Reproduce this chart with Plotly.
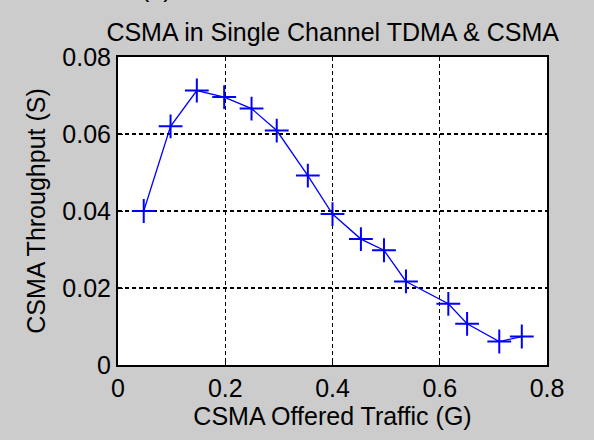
import plotly.graph_objects as go

offered_traffic = [0.048, 0.098, 0.147, 0.198, 0.249, 0.296, 0.354, 0.400, 0.453, 0.496, 0.537, 0.616, 0.651, 0.711, 0.753]
throughput = [0.0400, 0.0620, 0.0713, 0.0696, 0.0666, 0.0609, 0.0492, 0.0392, 0.0327, 0.0298, 0.0217, 0.0159, 0.0107, 0.0061, 0.0074]
x_ticks = [0, 0.2, 0.4, 0.6, 0.8]
x_tick_text = ["0", "0.2", "0.4", "0.6", "0.8"]
y_ticks = [0, 0.02, 0.04, 0.06, 0.08]
y_tick_text = ["0", "0.02", "0.04", "0.06", "0.08"]

title_text = "CSMA in Single Channel TDMA &amp; CSMA"
x_label = "CSMA Offered Traffic (G)"
y_label = "CSMA Throughput (S)"

FONT = "Liberation Sans, Arial, sans-serif"
BLUE = "rgb(0,0,255)"
FS = 25

fig = go.Figure()
fig.add_trace(go.Scatter(
    x=offered_traffic, y=throughput, mode="lines+markers",
    line=dict(color=BLUE, width=1.3),
    marker=dict(symbol="cross-thin-open", size=17, line=dict(color=BLUE, width=2)),
    showlegend=False,
))

fig.update_layout(
    width=594, height=440,
    margin=dict(l=118, r=47, t=57, b=75),
    paper_bgcolor="rgb(204,204,204)",
    plot_bgcolor="white",
    font=dict(family=FONT, size=FS, color="black"),
    title=dict(text=title_text, x=0.56, xanchor="center", y=1 - 32/440, yanchor="middle",
               font=dict(family=FONT, size=FS, color="black")),
    annotations=[dict(text="(a)", xref="paper", yref="paper", x=0.09, y=1.172,
                      xanchor="center", yanchor="bottom", showarrow=False,
                      font=dict(family=FONT, size=FS, color="black"))],
)
fig.update_xaxes(
    range=[0, 0.8], tickvals=x_ticks, ticktext=x_tick_text,
    showgrid=True, gridcolor="black", griddash="4px,3px", gridwidth=1,
    showline=True, linecolor="black", linewidth=1.5, mirror=True,
    ticks="inside", ticklen=5, tickcolor="black", zeroline=False,
    title=dict(text=x_label, standoff=2, font=dict(family=FONT, size=FS)),
    tickfont=dict(family=FONT, size=FS),
)
fig.update_yaxes(
    range=[0, 0.08], tickvals=y_ticks, ticktext=y_tick_text,
    showgrid=True, gridcolor="black", griddash="4px,3px", gridwidth=2,
    showline=True, linecolor="black", linewidth=2, mirror=True,
    ticks="inside", ticklen=5, tickcolor="black", zeroline=False,
    title=dict(text=y_label, standoff=10, font=dict(family=FONT, size=FS)),
    tickfont=dict(family=FONT, size=FS),
)

fig.write_html("out.html")
